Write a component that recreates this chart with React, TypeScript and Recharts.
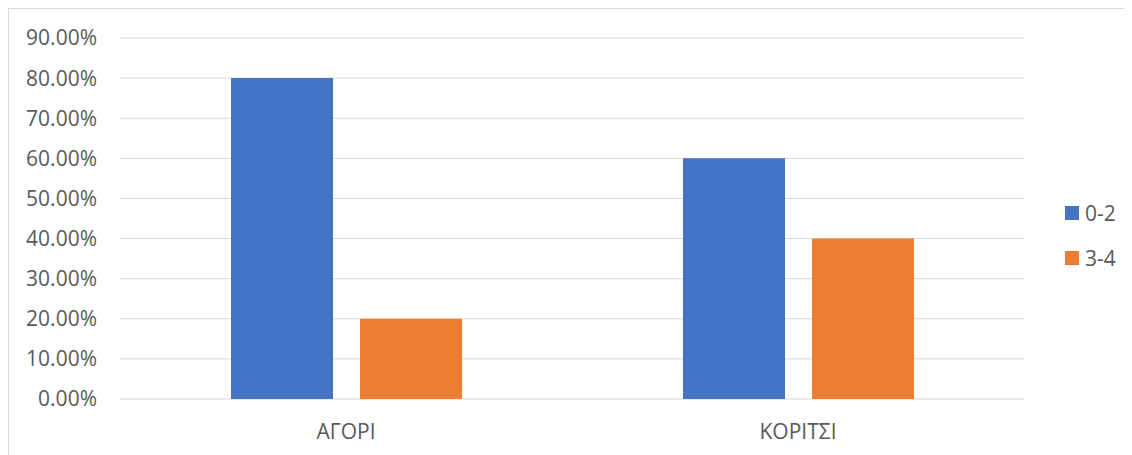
import React from 'react';
import {
  BarChart,
  Bar,
  XAxis,
  YAxis,
  CartesianGrid,
  Legend,
} from 'recharts';

// categories and shares per age group
const groups = ['ΑΓΟΡΙ', 'ΚΟΡΙΤΣΙ'];
const age0to2 = [0.8, 0.6];
const age3to4 = [0.2, 0.4];
const yTicks = [0, 0.1, 0.2, 0.3, 0.4, 0.5, 0.6, 0.7, 0.8, 0.9];

const seriesNames = ['0-2', '3-4'];
const seriesColors = ['#4472C4', '#ED7D31'];

const chartData = groups.map((name, i) => ({
  name,
  [seriesNames[0]]: age0to2[i],
  [seriesNames[1]]: age3to4[i],
}));

const FONT = '"Open Sans", sans-serif';
const TEXT = '#595959';
const LEGEND_W = 80;

const pct = (v: number) => `${(v * 100).toFixed(2)}%`;

const SideLegend = () => (
  <div style={{ fontFamily: FONT, fontSize: 21, color: TEXT }}>
    {seriesNames.map((name, i) => (
      <div key={name} style={{ display: 'flex', alignItems: 'center', height: 45 }}>
        <span
          style={{
            width: 14,
            height: 14,
            background: seriesColors[i],
            marginRight: 6,
            display: 'inline-block',
          }}
        />
        <span>{name}</span>
      </div>
    ))}
  </div>
);

export default function App() {
  return (
    <div
      style={{
        width: 1124,
        height: 447,
        borderLeft: '1px solid #d9d9d9',
        borderTop: '1px solid #d9d9d9',
        background: '#fff',
        overflow: 'hidden',
      }}
    >
      <BarChart
        width={1123}
        height={446}
        data={chartData}
        // the legend box width is added to the right offset by recharts
        margin={{ top: 29, right: 108 - LEGEND_W, left: 0, bottom: 0 }}
        barSize={102}
        barGap={27}
      >
        <CartesianGrid vertical={false} stroke="#d9d9d9" strokeWidth={1} />
        <XAxis
          dataKey="name"
          height={56}
          axisLine={false}
          tickLine={false}
          tickSize={0}
          tickMargin={25}
          tick={{ fill: TEXT, fontSize: 21, fontFamily: FONT }}
        />
        <YAxis
          width={111}
          domain={[0, 0.9]}
          ticks={yTicks}
          interval={0}
          axisLine={false}
          tickLine={false}
          tickSize={0}
          tickMargin={23}
          tickFormatter={pct}
          tick={{ fill: TEXT, fontSize: 21, fontFamily: FONT }}
        />
        <Legend
          layout="horizontal"
          verticalAlign="middle"
          align="right"
          wrapperStyle={{ left: 1056, top: 181, width: LEGEND_W }}
          content={<SideLegend />}
        />
        {seriesNames.map((name, i) => (
          <Bar key={name} dataKey={name} fill={seriesColors[i]} isAnimationActive={false} />
        ))}
      </BarChart>
    </div>
  );
}
